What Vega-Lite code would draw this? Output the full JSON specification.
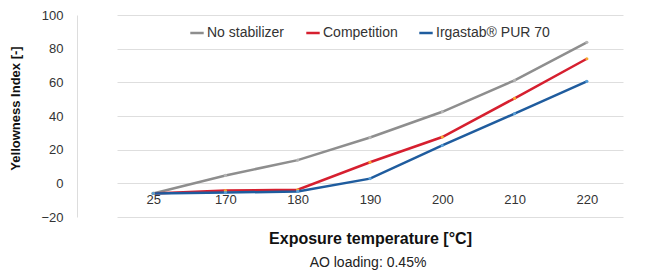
{
  "$schema": "https://vega.github.io/schema/vega-lite/v6.json",
  "autosize": "none",
  "padding": {"left": 77, "top": 15, "right": 0, "bottom": 55},
  "width": 582,
  "height": 202,
  "background": "white",
  "config": {
    "font": "Liberation Sans",
    "view": {"stroke": null}
  },
  "title": {
    "text": "AO loading: 0.45%",
    "orient": "bottom",
    "anchor": "middle",
    "fontSize": 14,
    "fontWeight": "normal",
    "color": "#222222",
    "offset": 10
  },
  "data": {
    "values": [
      {"temp": "25", "series": "No stabilizer", "yi": -6},
      {"temp": "170", "series": "No stabilizer", "yi": 4.7},
      {"temp": "180", "series": "No stabilizer", "yi": 13.8},
      {"temp": "190", "series": "No stabilizer", "yi": 27.2},
      {"temp": "200", "series": "No stabilizer", "yi": 42.5},
      {"temp": "210", "series": "No stabilizer", "yi": 61.2},
      {"temp": "220", "series": "No stabilizer", "yi": 83.8},
      {"temp": "25", "series": "Competition", "yi": -6},
      {"temp": "170", "series": "Competition", "yi": -4.3},
      {"temp": "180", "series": "Competition", "yi": -3.8},
      {"temp": "190", "series": "Competition", "yi": 12.5},
      {"temp": "200", "series": "Competition", "yi": 27.5},
      {"temp": "210", "series": "Competition", "yi": 50.5},
      {"temp": "220", "series": "Competition", "yi": 74},
      {"temp": "25", "series": "Irgastab® PUR 70", "yi": -6},
      {"temp": "170", "series": "Irgastab® PUR 70", "yi": -5.5},
      {"temp": "180", "series": "Irgastab® PUR 70", "yi": -4.8},
      {"temp": "190", "series": "Irgastab® PUR 70", "yi": 2.8},
      {"temp": "200", "series": "Irgastab® PUR 70", "yi": 22.5},
      {"temp": "210", "series": "Irgastab® PUR 70", "yi": 41.4},
      {"temp": "220", "series": "Irgastab® PUR 70", "yi": 60.6}
    ]
  },
  "encoding": {
    "x": {
      "field": "temp",
      "type": "ordinal",
      "sort": null,
      "scale": {"type": "point", "range": [40, 546]},
      "axis": {
        "title": "Exposure temperature [°C]",
        "titleFontSize": 16,
        "titleFontWeight": "bold",
        "titleColor": "#111111",
        "titlePadding": 24,
        "labelAngle": 0,
        "labelFontSize": 13,
        "labelColor": "#333333",
        "labelPadding": 10,
        "ticks": false,
        "domain": false,
        "grid": false,
        "offset": -34
      }
    },
    "y": {
      "field": "yi",
      "type": "quantitative",
      "scale": {"domain": [-20, 100], "nice": false, "zero": false},
      "axis": {
        "title": "Yellowness Index [-]",
        "titleFontSize": 13,
        "titleFontWeight": "bold",
        "titleColor": "#111111",
        "titlePadding": 18,
        "titleY": 93,
        "values": [-20, 0, 20, 40, 60, 80, 100],
        "labelFontSize": 13,
        "labelColor": "#333333",
        "labelPadding": 14,
        "ticks": false,
        "domain": true,
        "domainColor": "#dddddd",
        "gridColor": "#dedede",
        "gridWidth": 1
      }
    }
  },
  "layer": [
    {
      "mark": {"type": "line", "strokeWidth": 2.5},
      "encoding": {
        "color": {
          "field": "series",
          "type": "nominal",
          "sort": ["No stabilizer", "Competition", "Irgastab® PUR 70"],
          "scale": {
            "domain": ["No stabilizer", "Competition", "Irgastab® PUR 70"],
            "range": ["#8e8e8e", "#d61f2f", "#1f5c9e"]
          },
          "legend": {
            "title": null,
            "orient": "none",
            "direction": "horizontal",
            "legendX": 112,
            "legendY": 10,
            "symbolType": "stroke",
            "symbolStrokeWidth": 2.5,
            "symbolSize": 180,
            "labelFontSize": 14,
            "labelColor": "#333333",
            "labelOffset": 2,
            "columnPadding": 16
          }
        }
      }
    },
    {
      "mark": {"type": "point", "filled": true, "size": 10, "opacity": 1},
      "encoding": {
        "fill": {
          "field": "series",
          "type": "nominal",
          "scale": {
            "domain": ["No stabilizer", "Competition", "Irgastab® PUR 70"],
            "range": ["#b5b5b5", "#f7a830", "#5aa0d8"]
          },
          "legend": null
        }
      }
    }
  ]
}
